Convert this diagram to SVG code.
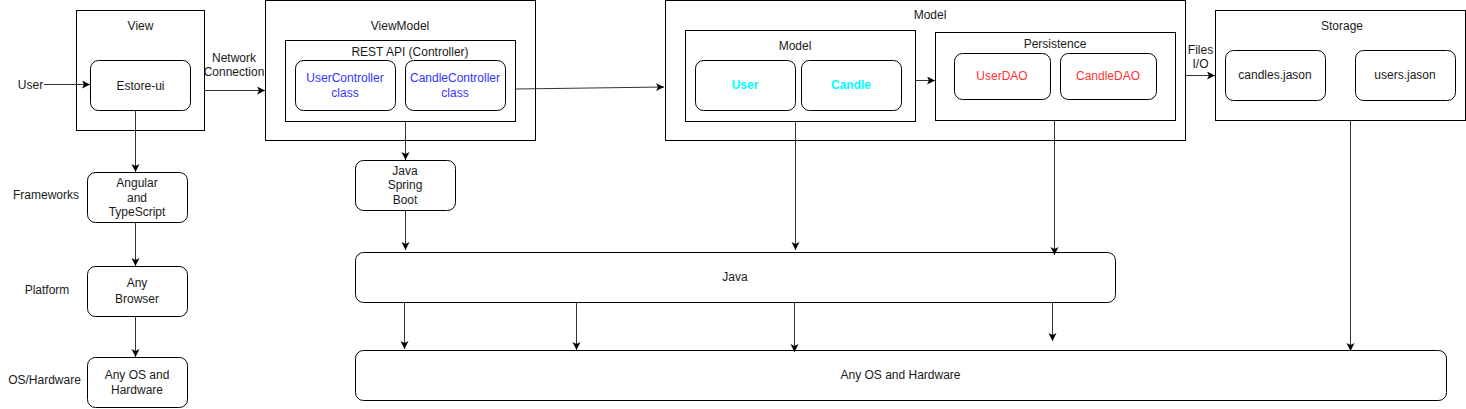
<svg xmlns="http://www.w3.org/2000/svg" width="1466" height="409" viewBox="0 0 1466 409">
<style>
text{font-family:"Liberation Sans",Arial,Helvetica,sans-serif;font-size:12px;fill:#1a1a1a;text-anchor:middle}
.box{fill:#fff;stroke:#000;stroke-width:1}
.rbox{fill:#fff;stroke:#000;stroke-width:1}
.blue{fill:#3333ff}
.red{fill:#ff3333}
.cyan{fill:#00ffff;font-weight:bold}
.con{fill:none;stroke:#333;stroke-width:1;marker-end:url(#arr)}
</style>
<defs>
<marker id="arr" markerUnits="userSpaceOnUse" markerWidth="10" markerHeight="10" refX="8" refY="4" orient="auto">
<path d="M0,0 L8,4 L0,8 L2,4 Z" fill="#000"/>
</marker>
</defs>
<rect width="1466" height="409" fill="#fff"/>

<g id="labels">
<text x="30.5" y="89">User</text>
<text x="46" y="199">Frameworks</text>
<text x="47" y="294">Platform</text>
<text x="44.5" y="384">OS/Hardware</text>
<text x="234" y="61.5">Network</text>
<text x="234" y="75.5">Connection</text>
<text x="1200.5" y="54">Files</text>
<text x="1200.5" y="68">I/O</text>
</g>

<g id="view">
<rect class="box" x="76.5" y="10.5" width="128" height="120"/>
<text x="140.5" y="29.5">View</text>
</g>
<g id="estore-ui">
<rect class="rbox" x="90.5" y="60.5" width="100" height="50" rx="8"/>
<text x="140.5" y="89.5">Estore-ui</text>
</g>
<g id="angular">
<rect class="rbox" x="87.5" y="172.5" width="100" height="50" rx="8"/>
<text x="137" y="187">Angular</text>
<text x="137" y="201.5">and</text>
<text x="137" y="216">TypeScript</text>
</g>
<g id="browser">
<rect class="rbox" x="87.5" y="266.5" width="100" height="50" rx="8"/>
<text x="137" y="287">Any</text>
<text x="137" y="302.5">Browser</text>
</g>
<g id="oshw-left">
<rect class="rbox" x="87.5" y="357.5" width="100" height="50" rx="8"/>
<text x="137" y="379">Any OS and</text>
<text x="137" y="394">Hardware</text>
</g>

<g id="viewmodel">
<rect class="box" x="265.5" y="0.5" width="270" height="140"/>
<text x="400" y="29.5">ViewModel</text>
</g>
<g id="restapi">
<rect class="box" x="285.5" y="40.5" width="230" height="81"/>
<text x="410" y="56">REST API (Controller)</text>
</g>
<g id="usercontroller">
<rect class="rbox" x="295.5" y="60.5" width="100" height="50" rx="8"/>
<text class="blue" x="345" y="82">UserController</text>
<text class="blue" x="345" y="96.5">class</text>
</g>
<g id="candlecontroller">
<rect class="rbox" x="405.5" y="60.5" width="100" height="50" rx="8"/>
<text class="blue" x="455" y="82">CandleController</text>
<text class="blue" x="455" y="96.5">class</text>
</g>
<g id="springboot">
<rect class="rbox" x="355.5" y="160.5" width="100" height="50" rx="8"/>
<text x="405" y="174.5">Java</text>
<text x="405" y="189">Spring</text>
<text x="405" y="204">Boot</text>
</g>

<g id="model-outer">
<rect class="box" x="665.5" y="0.5" width="520" height="140"/>
<text x="930" y="19">Model</text>
</g>
<g id="model-inner">
<rect class="box" x="685.5" y="30.5" width="230" height="91"/>
<text x="795" y="50">Model</text>
</g>
<g id="user">
<rect class="rbox" x="695.5" y="60.5" width="100" height="50" rx="8"/>
<text class="cyan" x="745" y="89">User</text>
</g>
<g id="candle">
<rect class="rbox" x="801.5" y="60.5" width="100" height="50" rx="8"/>
<text class="cyan" x="851" y="89">Candle</text>
</g>
<g id="persistence">
<rect class="box" x="935.5" y="32.5" width="240" height="88"/>
<text x="1055" y="48">Persistence</text>
</g>
<g id="userdao">
<rect class="rbox" x="954.5" y="53.5" width="96" height="46" rx="8"/>
<text class="red" x="1002" y="80">UserDAO</text>
</g>
<g id="candledao">
<rect class="rbox" x="1060.5" y="53.5" width="96" height="46" rx="8"/>
<text class="red" x="1108" y="80">CandleDAO</text>
</g>

<g id="storage">
<rect class="box" x="1215.5" y="10.5" width="250" height="110"/>
<text x="1342" y="30">Storage</text>
</g>
<g id="candles-json">
<rect class="rbox" x="1225.5" y="50.5" width="100" height="50" rx="8"/>
<text x="1275" y="79">candles.jason</text>
</g>
<g id="users-json">
<rect class="rbox" x="1355.5" y="50.5" width="100" height="50" rx="8"/>
<text x="1405" y="79">users.jason</text>
</g>

<g id="java">
<rect class="rbox" x="355.5" y="252.5" width="760" height="50" rx="8"/>
<text x="735" y="281">Java</text>
</g>
<g id="any-os">
<rect class="rbox" x="355.5" y="350.5" width="1091" height="50" rx="8"/>
<text x="900.5" y="379">Any OS and Hardware</text>
</g>

<g id="connectors">
<path class="con" d="M44,84.5 L90,84.5"/>
<path class="con" d="M204.5,90.5 L265,90.5"/>
<path class="con" d="M135.5,110.5 L135.5,172"/>
<path class="con" d="M135.5,222.5 L135.5,266"/>
<path class="con" d="M135.5,316.5 L135.5,357"/>
<path class="con" d="M515.5,89 L664,87"/>
<path class="con" d="M405.5,121.5 L405.5,160"/>
<path class="con" d="M405.5,210.5 L405.5,250"/>
<path class="con" d="M915.5,80.5 L935,80.5"/>
<path class="con" d="M1185.5,75.5 L1215,75.5"/>
<path class="con" d="M795.5,121.5 L795.5,250"/>
<path class="con" d="M1054.5,120.5 L1054.5,255"/>
<path class="con" d="M1350.5,120.5 L1350.5,351"/>
<path class="con" d="M404.5,302.5 L404.5,349"/>
<path class="con" d="M576.5,302.5 L576.5,350"/>
<path class="con" d="M794.5,302.5 L794.5,352"/>
<path class="con" d="M1052.5,302.5 L1052.5,341"/>
</g>
</svg>
